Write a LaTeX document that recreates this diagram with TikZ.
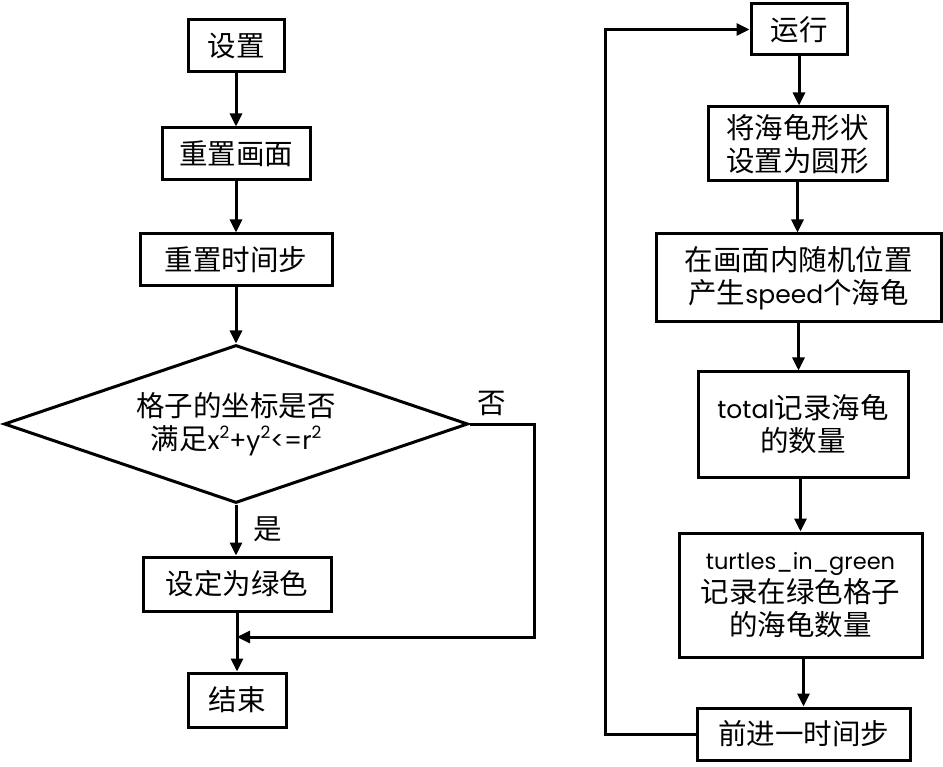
\documentclass[tikz,border=0pt]{standalone}
\usepackage{fontspec}
\setmainfont{Noto Sans CJK SC}
\newfontfamily\lat{Poppins}
\usetikzlibrary{arrows.meta,shapes.geometric}
\newcommand{\latsm}{\lat\fontsize{25}{33}\selectfont}
\newcommand{\sqr}{\raisebox{0.42em}{\fontsize{17}{17}\selectfont 2}}
\tikzset{
  box/.style={draw, rectangle, line width=3pt, inner sep=0pt, align=center,
    font=\fontsize{28.5}{33}\selectfont},
  decision/.style={draw, diamond, line width=3pt, inner sep=0pt, align=center,
    shape aspect=2.9, font=\fontsize{28.5}{33}\selectfont},
  lbl/.style={font=\fontsize{28.5}{33}\selectfont, inner sep=0pt},
  arr/.style={line width=3pt, -{Triangle[length=13pt,width=12pt]}}
}
\begin{document}
\begin{tikzpicture}[x=1pt,y=-1pt]
\useasboundingbox (0,0) rectangle (943,767);
% left column
\node[box, minimum width=96pt, minimum height=52pt] (s1) at (236,46) {设置};
\node[box, minimum width=148pt, minimum height=52pt] (s2) at (236,154) {重置画面};
\node[box, minimum width=192pt, minimum height=52pt] (s3) at (236,260) {重置时间步};
\node[decision, minimum width=464pt, minimum height=158pt] (d) at (236,424) {格子的坐标是否\\满足{\latsm x\sqr+y\sqr<=r\sqr}};
\node[box, minimum width=188pt, minimum height=54pt] (s4) at (237,584) {设定为绿色};
\node[box, minimum width=98pt, minimum height=54pt] (s5) at (237,700) {结束};
\node[lbl] (no) at (492,403) {否};
\node[lbl] (yes) at (268,529) {是};
\coordinate (m) at (534,637);
\draw[arr] (s1.south) -- (s1.south |- s2.north);
\draw[arr] (s2.south) -- (s2.south |- s3.north);
\draw[arr] (s3.south) -- (s3.south |- d.north);
\draw[arr] (d.south) -- (d.south |- s4.north);
\draw[arr] (s4.south) -- (s4.south |- s5.north);
\draw[arr] (d.east) -| (m) -- (m -| s4.south);
% right column
\node[box, minimum width=96pt, minimum height=51pt] (r1) at (799,29.5) {运行};
\node[box, minimum width=179pt, minimum height=74pt] (r2) at (797.5,144) {将海龟形状\\设置为圆形};
\node[box, minimum width=285pt, minimum height=88pt] (r3) at (798.5,278) {在画面内随机位置\\产生{\latsm speed}个海龟};
\node[box, minimum width=210pt, minimum height=105pt] (r4) at (803,424.5) {{\latsm total}记录海龟\\的数量};
\node[box, minimum width=243pt, minimum height=124pt] (r5) at (800.5,595) {{\lat\fontsize{22.5}{33}\selectfont turtles\_in\_green}\\记录在绿色格子\\的海龟数量};
\node[box, minimum width=213pt, minimum height=52pt] (r6) at (803.5,734) {前进一时间步};
\coordinate (lb) at (605,734);
\draw[arr] (r1.south) -- (r1.south |- r2.north);
\draw[arr] (r2.south) -- (r2.south |- r3.north);
\draw[arr] (r3.south) -- (r3.south |- r4.north);
\draw[arr] (r5.north |- r4.south) -- (r5.north);
\draw[arr] (r6.north |- r5.south) -- (r6.north);
\draw[arr] (r6.west) -- (lb) |- (r1.west);
\end{tikzpicture}
\end{document}
